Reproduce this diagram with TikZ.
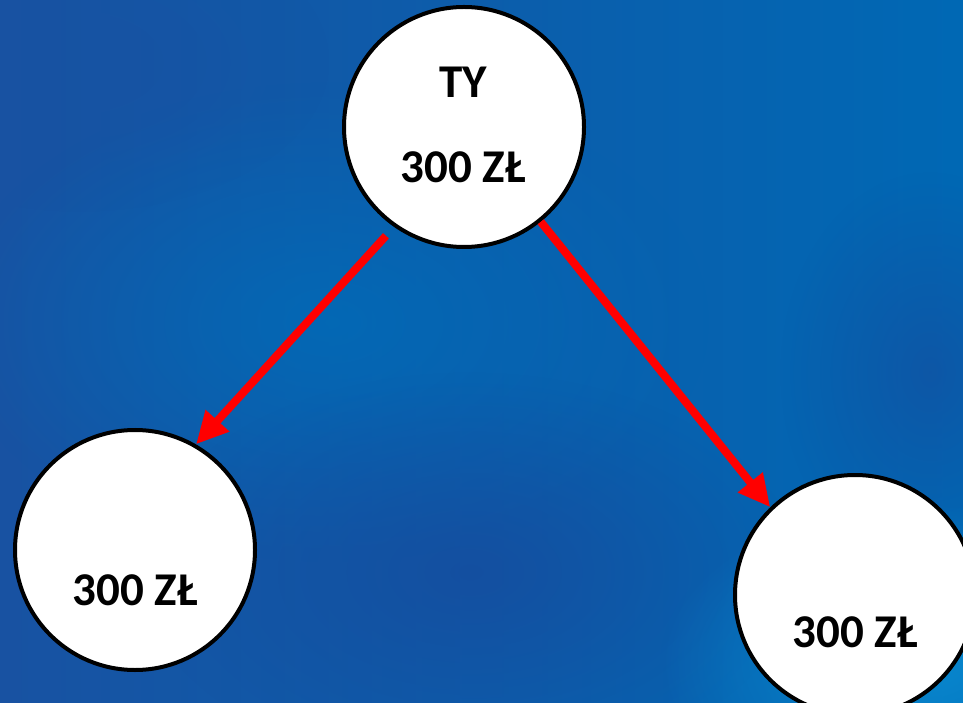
\documentclass[tikz,border=0pt]{standalone}
\usepackage{fontspec}
\setmainfont{Carlito}
\usetikzlibrary{arrows.meta,fadings}
\definecolor{bgA}{RGB}{24,82,162}
\definecolor{bgB}{RGB}{0,104,180}
\definecolor{bgM}{RGB}{0,108,184}
\definecolor{bgC}{RGB}{10,140,210}
\definecolor{bgD}{RGB}{22,76,158}
\definecolor{arrowred}{RGB}{255,0,0}
\tikzfading[name=softblob,inner color=transparent!0,outer color=transparent!100]
\tikzset{
  bubble/.style={circle,draw=black,fill=white,line width=4pt,minimum size=240pt,inner sep=0pt},
  amount/.style={font=\bfseries\fontsize{47}{47}\selectfont,inner sep=0pt,text=black},
  redarrow/.style={draw=arrowred,line width=8pt,-{Triangle[width=30pt,length=32pt]}}
}
\begin{document}
\begin{tikzpicture}[x=1pt,y=1pt]
\useasboundingbox (0,0) rectangle (963,702);
\begin{scope}
\clip (0,0) rectangle (963,702);
\shade[left color=bgA,right color=bgB] (0,0) rectangle (963,702);
\fill[bgM,path fading=softblob,opacity=0.8] (330,380) ellipse (380 and 240);
\fill[bgD,path fading=softblob,opacity=0.8] (470,130) ellipse (330 and 200);
\fill[bgD,path fading=softblob,opacity=0.6] (930,330) ellipse (150 and 200);
\fill[bgC,path fading=softblob,opacity=0.9] (920,40) ellipse (260 and 160);
\fill[bgA,path fading=softblob,opacity=0.5] (80,640) ellipse (250 and 150);
\end{scope}
\node[bubble] (top) at (464,575) {};
\node[bubble] (left) at (135,152) {};
\node[bubble] (right) at (855,107) {};
\node[amount] (ty) at (463,620) {TY};
\node[amount] (topamt) at (463,535) {300 ZŁ};
\node[amount] (leftamt) at (135,112) {300 ZŁ};
\node[amount] (rightamt) at (855,70) {300 ZŁ};
\draw[redarrow,shorten <=12pt] (top.235.4) -- (left.60.7);
\draw[redarrow] (top.-51.3) -- (right.134);
\end{tikzpicture}
\end{document}
